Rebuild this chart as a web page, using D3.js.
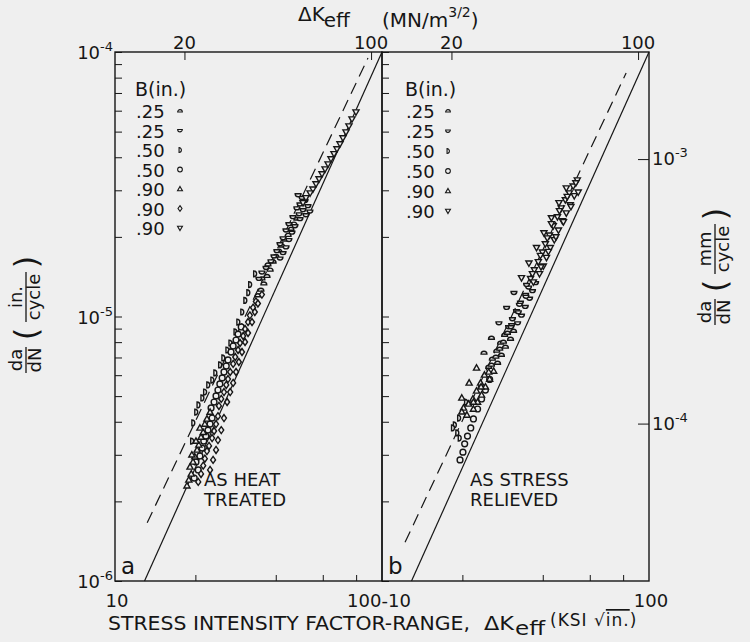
<!DOCTYPE html>
<html lang='en'>
<head>
<meta charset='utf-8'>
<title>Crack growth rate vs effective stress intensity range</title>
<script src="https://d3js.org/d3.v7.min.js"></script>
<style>
    body { margin: 0; background: #efefef; }
    svg { display: block; font-family: 'DejaVu Sans', sans-serif; }
</style>
</head>
<body>
<div id='chart'></div>
<script>
// values: [delta K (ksi sqrt in.), da/dN (in./cycle)]
// panel a - as heat treated
const heat25a = [[34.3,1.20e-5],[35.2,1.26e-5],[36.1,1.33e-5],[35.5,1.39e-5],[37.1,1.42e-5],[38.1,1.50e-5],[37.4,1.57e-5],[39.1,1.61e-5],[40.1,1.69e-5],[41.1,1.77e-5],[42.2,1.85e-5],[43.3,1.95e-5],[44.5,2.03e-5],[45.6,2.14e-5],[46.8,2.24e-5],[48.0,2.34e-5]];
const heat25b = [[48.5,2.88e-5],[50.2,2.81e-5],[51.5,2.74e-5],[49.3,2.66e-5],[52.8,2.62e-5],[48.0,2.57e-5],[50.6,2.53e-5],[53.7,2.50e-5],[48.9,2.44e-5],[51.9,2.42e-5],[46.4,2.38e-5],[49.3,2.34e-5],[44.8,2.24e-5],[47.2,2.20e-5],[43.7,2.12e-5],[46.0,2.08e-5],[42.6,1.98e-5],[44.8,1.95e-5],[41.5,1.88e-5],[43.7,1.83e-5],[40.4,1.77e-5],[42.6,1.74e-5],[39.4,1.69e-5],[41.5,1.66e-5],[38.4,1.62e-5],[36.8,1.53e-5],[35.5,1.47e-5],[34.6,1.39e-5]];
const heat50a = [[33.4,1.45e-5],[32.0,1.32e-5],[31.5,1.23e-5],[30.7,1.15e-5],[29.9,1.04e-5],[28.9,9.53e-6],[28.2,8.74e-6],[27.0,7.94e-6],[26.3,7.47e-6],[25.4,6.97e-6],[24.7,6.56e-6],[23.7,6.12e-6],[23.1,5.75e-6],[22.3,5.51e-6],[21.7,5.18e-6],[21.2,4.92e-6],[20.5,4.63e-6],[20.1,4.35e-6],[19.6,3.96e-6],[19.4,3.38e-6]];
const heat50b = [[19.8,2.45e-6],[20.5,2.63e-6],[20.1,2.82e-6],[20.8,2.97e-6],[21.2,3.18e-6],[21.5,3.38e-6],[21.9,3.53e-6],[22.3,3.72e-6],[22.7,3.92e-6],[23.1,4.13e-6],[22.9,4.51e-6],[23.5,4.75e-6],[23.9,5.01e-6],[24.3,5.27e-6],[24.7,5.56e-6],[25.2,5.86e-6],[25.6,6.17e-6],[26.1,6.50e-6],[26.5,6.85e-6],[27.2,7.34e-6],[27.7,7.73e-6],[28.4,8.15e-6],[28.9,8.58e-6],[29.7,9.13e-6]];
const heat90a = [[18.6,2.29e-6],[18.9,2.41e-6],[19.3,2.54e-6],[19.1,2.70e-6],[19.6,2.82e-6],[19.9,2.95e-6],[19.4,3.00e-6],[20.3,3.13e-6],[20.6,3.27e-6],[20.1,3.38e-6],[21.0,3.50e-6],[21.4,3.65e-6],[20.8,3.79e-6],[21.7,3.92e-6],[22.1,4.10e-6],[22.7,4.35e-6]];
const heat90b = [[20.5,2.37e-6],[21.0,2.54e-6],[21.4,2.73e-6],[21.7,2.90e-6],[22.1,3.10e-6],[22.5,3.24e-6],[23.1,3.47e-6],[23.5,3.69e-6],[23.9,3.92e-6],[24.3,4.20e-6],[24.5,4.59e-6],[25.0,4.88e-6],[25.6,5.18e-6],[26.1,5.51e-6],[26.5,5.80e-6],[27.0,6.17e-6],[27.7,6.62e-6],[28.2,7.03e-6],[28.9,7.47e-6],[29.4,7.94e-6],[30.2,8.44e-6],[30.7,8.97e-6],[31.5,9.53e-6],[32.0,1.01e-5],[32.9,1.08e-5],[33.7,1.14e-5],
    [22.7,2.63e-6],[23.3,2.87e-6],[23.9,3.13e-6],[24.3,3.41e-6],[25.0,3.72e-6],[25.6,4.13e-6],[26.3,4.75e-6],[27.0,5.18e-6],[27.7,5.61e-6],[28.4,6.17e-6],[29.1,6.73e-6],[29.9,7.34e-6],[30.7,8.01e-6],[31.5,8.66e-6],[32.6,9.53e-6],[33.4,1.04e-5],[34.3,1.12e-5],[35.5,1.21e-5]];
const heat90c = [[79.9,5.93e-5],[77.2,5.58e-5],[75.2,5.25e-5],[73.3,4.98e-5],[71.4,4.73e-5],[69.6,4.49e-5],[67.8,4.30e-5],[66.1,4.12e-5],[64.4,3.94e-5],[62.8,3.77e-5],[61.2,3.61e-5],[59.6,3.46e-5],[58.1,3.31e-5],[56.6,3.17e-5],[55.1,3.03e-5],[53.8,2.93e-5],[51.9,2.81e-5],[50.6,2.69e-5]];

// panel b - as stress relieved
const stress25a = [[31.1,8.81e-6],[28.8,8.51e-6],[30.3,8.22e-6],[27.8,7.94e-6],[29.0,7.67e-6],[26.9,7.41e-6],[28.0,7.15e-6],[25.9,6.91e-6],[27.1,6.67e-6],[25.1,6.44e-6],[29.5,8.66e-6],[27.6,7.54e-6],[25.7,6.56e-6],
    [25.7,8.29e-6],[28.5,8.01e-6],[24.1,7.28e-6],[26.7,7.03e-6]];
const stress25b = [[37.6,1.34e-5],[35.4,1.29e-5],[36.6,1.25e-5],[34.5,1.21e-5],[35.7,1.17e-5],[33.0,1.13e-5],[34.4,1.09e-5],[31.9,1.05e-5],[33.3,1.01e-5],[30.8,9.79e-6],[32.2,9.45e-6],[29.8,9.13e-6],[34.8,1.32e-5],[32.7,1.11e-5],[30.6,9.29e-6],
    [31.2,1.23e-5],[34.6,1.19e-5],[29.3,1.08e-5],[32.4,1.04e-5],[27.4,9.45e-6],[30.4,9.13e-6]];
const stress50a = [[20.6,4.75e-6],[19.4,4.13e-6],[18.7,3.89e-6],[19.1,3.63e-6],[18.4,3.79e-6],[19.5,3.47e-6]];
const stress50b = [[25.3,5.78e-6],[24.4,5.27e-6],[23.6,4.88e-6],[22.8,4.47e-6],[22.0,4.10e-6],[21.5,3.79e-6],[20.9,3.53e-6],[20.4,3.30e-6],[20.1,3.07e-6],[19.6,2.87e-6]];
const stress90a = [[26.2,6.22e-6],[24.2,6.01e-6],[25.3,5.80e-6],[23.4,5.61e-6],[24.4,5.42e-6],[22.6,5.23e-6],[23.6,5.05e-6],[21.9,4.88e-6],[22.8,4.75e-6],[21.1,4.67e-6],[20.2,4.51e-6],[22.0,4.47e-6],[19.9,4.36e-6],[20.8,4.24e-6],
    [22.6,6.39e-6],[25.1,6.17e-6],[21.2,5.61e-6],[23.5,5.42e-6],[19.9,4.92e-6],[22.0,4.75e-6]];
const stress90b = [[53.9,3.28e-5],[52.0,3.11e-5],[50.3,2.93e-5],[52.5,2.86e-5],[48.6,2.76e-5],[50.7,2.64e-5],[46.9,2.57e-5],[49.0,2.46e-5],[45.4,2.38e-5],[47.4,2.30e-5],[43.8,2.20e-5],[45.8,2.12e-5],[42.4,2.03e-5],[44.2,1.95e-5],[40.9,1.88e-5],[42.7,1.82e-5],[39.9,1.75e-5],[41.3,1.67e-5],[38.5,1.61e-5],[40.2,1.55e-5],[37.2,1.50e-5],[38.9,1.45e-5],[36.0,1.39e-5],[53.2,3.20e-5],[49.4,2.84e-5],[46.2,2.51e-5],[43.1,2.24e-5],[41.6,1.98e-5],[39.2,1.70e-5],[36.6,1.45e-5],
    [49.0,3.06e-5],[54.3,2.95e-5],[46.0,2.69e-5],[51.0,2.60e-5],[43.1,2.36e-5],[47.8,2.28e-5],[40.4,2.07e-5],[44.8,2.00e-5],[37.9,1.82e-5],[42.0,1.76e-5],[35.5,1.59e-5],[39.4,1.54e-5],[33.3,1.40e-5],[36.9,1.35e-5]];

// reference lines
const solidLine = [[12.9,1e-6],[100,1e-4]];
const heatDashed = [[13.2,1.66e-6],[88.6,9.49e-5]];
const stressDashed = [[12.2,1.40e-6],[82.1,8.33e-5]];

// ticks
const ksiTicks = [20, 40, 60, 80];
const mnTicks = [20, 100];
const inDecades = [1e-6, 1e-5, 1e-4];
const mmDecades = [1e-4, 1e-3];
const ksiEndLabels = ["10", "100-10", "100"];

const heatLegend = [".25", ".25", ".50", ".50", ".90", ".90", ".90"];
const stressLegend = [".25", ".25", ".50", ".50", ".90", ".90"];

const KSI_TO_MN = 1.0988, IN_TO_MM = 25.4;
const ink = "#161616", paper = "#efefef";
const width = 750, height = 642;
const plotTop = 52, plotBottom = 581;

// marker shapes, size = (2r)^2
const shapes = {
    halfUp: {draw(c, s) { let r = Math.sqrt(s)/2; c.moveTo(-r, r*0.4); c.arc(0, r*0.4, r, Math.PI, 2*Math.PI); c.closePath(); }},
    halfDown: {draw(c, s) { let r = Math.sqrt(s)/2; c.moveTo(r, -r*0.4); c.arc(0, -r*0.4, r, 0, Math.PI); c.closePath(); }},
    dee: {draw(c, s) { let r = Math.sqrt(s)/2; c.moveTo(-r*0.4, -r); c.arc(-r*0.4, 0, r, -Math.PI/2, Math.PI/2); c.closePath(); }},
    ring: {draw(c, s) { let r = Math.sqrt(s)/2; c.moveTo(r, 0); c.arc(0, 0, r, 0, 2*Math.PI); c.closePath(); }},
    triUp: {draw(c, s) { let r = Math.sqrt(s)/2; c.moveTo(0, -r*1.1); c.lineTo(r*1.05, r*0.75); c.lineTo(-r*1.05, r*0.75); c.closePath(); }},
    triDown: {draw(c, s) { let r = Math.sqrt(s)/2; c.moveTo(0, r*1.1); c.lineTo(r*1.05, -r*0.75); c.lineTo(-r*1.05, -r*0.75); c.closePath(); }},
    diamond: {draw(c, s) { let r = Math.sqrt(s)/2; c.moveTo(0, -r*1.2); c.lineTo(r*0.85, 0); c.lineTo(0, r*1.2); c.lineTo(-r*0.85, 0); c.closePath(); }}
};

const panels = [
    {
        left: 115, right: 382, tag: "a",
        note: ["AS HEAT", "TREATED"], noteX: 204,
        dashed: heatDashed, legend: heatLegend, legendX: 136, markX: 180, legendStep: 19.5,
        series: [
            {data: heat25a, shape: "halfUp"}, {data: heat25b, shape: "halfDown"},
            {data: heat50a, shape: "dee"}, {data: heat50b, shape: "ring"},
            {data: heat90a, shape: "triUp"}, {data: heat90b, shape: "diamond"},
            {data: heat90c, shape: "triDown"}
        ]
    },
    {
        left: 382, right: 649, tag: "b",
        note: ["AS STRESS", "RELIEVED"], noteX: 470,
        dashed: stressDashed, legend: stressLegend, legendX: 406, markX: 448, legendStep: 20,
        series: [
            {data: stress25a, shape: "halfUp"}, {data: stress25b, shape: "halfDown"},
            {data: stress50a, shape: "dee"}, {data: stress50b, shape: "ring"},
            {data: stress90a, shape: "triUp"}, {data: stress90b, shape: "triDown"}
        ]
    }
];

let svg = d3.select("#chart").append("svg")
    .attr("width", width).attr("height", height)
    .style("background", paper);

let y = d3.scaleLog().domain([1e-6, 1e-4]).range([plotBottom, plotTop]);
let yMm = d3.scaleLog().domain([1e-6*IN_TO_MM, 1e-4*IN_TO_MM]).range([plotBottom, plotTop]);

let sciLabel = (x, yy, v, anchor) => {
    let t = svg.append("text").attr("x", x).attr("y", yy)
        .attr("text-anchor", anchor).attr("fill", ink).style("font-size", "18px");
    t.append("tspan").text("10");
    t.append("tspan").attr("dy", -8).style("font-size", "13px").text(Math.round(Math.log10(v)));
};

let line = (xs) => d3.line().x(d => xs(d[0])).y(d => y(d[1]));

panels.forEach((p, i) => {
    let x = d3.scaleLog().domain([10, 100]).range([p.left, p.right]);
    let xMn = d3.scaleLog().domain([10*KSI_TO_MN, 100*KSI_TO_MN]).range([p.left, p.right]);

    // frame
    svg.append("rect")
        .attr("x", p.left).attr("y", plotTop)
        .attr("width", p.right - p.left).attr("height", plotBottom - plotTop)
        .attr("fill", "none").attr("stroke", ink).attr("stroke-width", 1.4);

    // bottom ticks (inside)
    svg.append("g").attr("transform", `translate(0,${plotBottom})`).attr("color", ink)
        .call(d3.axisTop(x).tickValues(ksiTicks).tickSize(6).tickFormat(""))
        .call(g => g.select(".domain").remove());
    // top ticks, MN/m^3/2
    svg.append("g").attr("transform", `translate(0,${plotTop})`).attr("color", ink)
        .call(d3.axisBottom(xMn).tickValues(mnTicks).tickSize(8).tickFormat(""))
        .call(g => g.select(".domain").remove());
    mnTicks.forEach(v => {
        svg.append("text").attr("x", xMn(v)).attr("y", 49).attr("text-anchor", "middle")
            .attr("fill", ink).style("font-size", "18px").text(v);
    });
    // left ticks in./cycle (inside)
    svg.append("g").attr("transform", `translate(${p.left},0)`).attr("color", ink)
        .call(d3.axisRight(y).tickValues(y.ticks()).tickSize(7).tickFormat(""))
        .call(g => g.select(".domain").remove());

    // reference lines
    svg.append("path").datum(solidLine).attr("d", line(x))
        .attr("fill", "none").attr("stroke", ink).attr("stroke-width", 1.2);
    svg.append("path").datum(p.dashed).attr("d", line(x))
        .attr("fill", "none").attr("stroke", ink).attr("stroke-width", 1.2)
        .attr("stroke-dasharray", "12,7");

    // data points
    p.series.forEach(s => {
        svg.append("g").selectAll("path")
            .data(s.data)
            .join("path")
                .attr("transform", d => `translate(${x(d[0])},${y(d[1])})`)
                .attr("d", d3.symbol().type(shapes[s.shape]).size(34))
                .attr("fill", paper).attr("stroke", ink).attr("stroke-width", 1.4);
    });

    // legend
    svg.append("text").attr("x", p.legendX - 1).attr("y", 96).attr("fill", ink)
        .style("font-size", "19px").text("B(in.)");
    p.legend.forEach((lab, k) => {
        let by = 118 + k*p.legendStep;
        svg.append("text").attr("x", p.legendX).attr("y", by).attr("fill", ink)
            .style("font-size", "18px").text(lab);
        svg.append("path")
            .attr("transform", `translate(${p.markX},${by - 7})`)
            .attr("d", d3.symbol().type(shapes[p.series[k].shape]).size(22))
            .attr("fill", paper).attr("stroke", ink).attr("stroke-width", 1.1);
    });

    // notes
    p.note.forEach((n, k) => {
        svg.append("text").attr("x", p.noteX).attr("y", 486 + k*20).attr("fill", ink)
            .style("font-size", "18px").text(n);
    });
    svg.append("text").attr("x", p.left + 6).attr("y", 574).attr("fill", ink)
        .style("font-size", "23px").text(p.tag);
});

// right axis mm/cycle
let rightEdge = panels[1].right;
svg.append("g").attr("transform", `translate(${rightEdge},0)`).attr("color", ink)
    .call(d3.axisLeft(yMm).tickValues(mmDecades).tickSize(11).tickFormat(""))
    .call(g => g.select(".domain").remove());
mmDecades.forEach(v => sciLabel(rightEdge + 3, yMm(v) + 6, v, "start"));
inDecades.forEach(v => sciLabel(113, y(v) + 7, v, "end"));

// bottom end labels
let ksiEndX = [panels[0].left, panels[0].right, panels[1].right];
ksiEndLabels.forEach((lab, k) => {
    svg.append("text").attr("x", ksiEndX[k] + (k == 1 ? -3 : 2)).attr("y", 607)
        .attr("text-anchor", "middle").attr("fill", ink).style("font-size", "18px").text(lab);
});

// x label, pieces stretched to the lettering of the original
let xPart = (txt, x, yy, len, size) => svg.append("text")
    .attr("x", x).attr("y", yy).attr("fill", ink)
    .attr("textLength", len).attr("lengthAdjust", "spacingAndGlyphs")
    .style("font-size", size).text(txt);
xPart("STRESS INTENSITY FACTOR-RANGE,", 108, 630, 362, "19.5px");
xPart("\u0394K", 484, 630, 30, "19.5px");
xPart("eff", 515, 635, 30, "19px");
let ksi = svg.append("text").attr("x", 550).attr("y", 626).attr("fill", ink)
    .style("font-size", "17px").style("letter-spacing", "1px");
ksi.append("tspan").text("(KSI \u221A");
ksi.append("tspan").style("text-decoration", "overline").text("in.");
ksi.append("tspan").text(")");

// top label
let tl = svg.append("text").attr("x", 298).attr("y", 21).attr("fill", ink).style("font-size", "20px");
tl.append("tspan").text("\u0394K");
tl.append("tspan").attr("dy", 6).text("eff");
tl.append("tspan").attr("x", 382).text("(MN/m");
tl.append("tspan").attr("dy", -10).style("font-size", "14px").text("3/2");
tl.append("tspan").attr("dy", 10).text(")");

// rotated y labels
let yLabel = (cx, cy, unit) => {
    let g = svg.append("g").attr("transform", `translate(${cx},${cy}) rotate(-90)`)
        .attr("fill", ink).style("font-size", "18px");
    g.append("text").attr("x", -42).attr("y", -4).attr("text-anchor", "middle").text("da");
    g.append("line").attr("x1", -55).attr("x2", -29).attr("y1", 0).attr("y2", 0)
        .attr("stroke", ink).attr("stroke-width", 1.3);
    g.append("text").attr("x", -42).attr("y", 15).attr("text-anchor", "middle").text("dN");
    g.append("text").attr("x", -16).attr("y", 11).attr("text-anchor", "middle")
        .style("font-size", "32px").text("(");
    g.append("text").attr("x", 21).attr("y", -4).attr("text-anchor", "middle").text(unit);
    g.append("line").attr("x1", -4).attr("x2", 46).attr("y1", 0).attr("y2", 0)
        .attr("stroke", ink).attr("stroke-width", 1.3);
    g.append("text").attr("x", 21).attr("y", 14).attr("text-anchor", "middle").text("cycle");
    g.append("text").attr("x", 56).attr("y", 11).attr("text-anchor", "middle")
        .style("font-size", "32px").text(")");
};
yLabel(26, 318, "in.");
yLabel(715, 270, "mm");
</script>
</body>
</html>
